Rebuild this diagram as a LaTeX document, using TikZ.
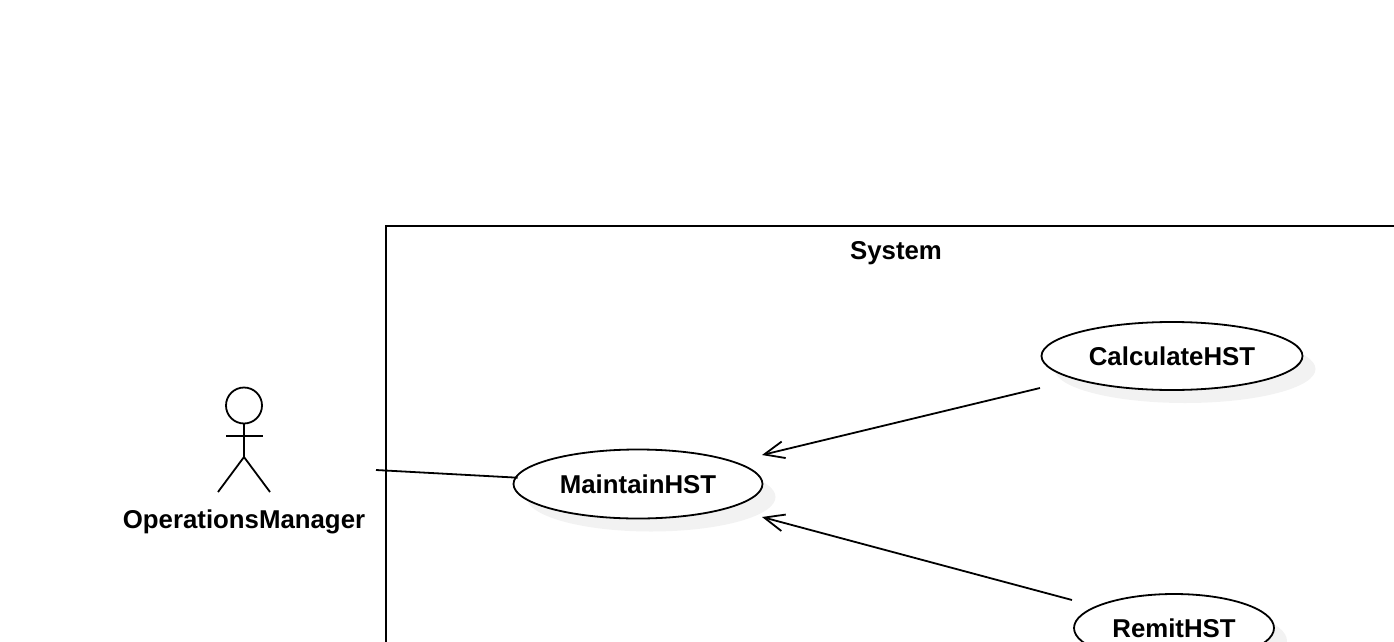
\documentclass[tikz,border=0pt]{standalone}
\usepackage{fontspec}
\setmainfont{Liberation Sans}
\usetikzlibrary{shapes.geometric,shadows,arrows.meta}
\definecolor{shadowgrey}{HTML}{F2F2F2}
\tikzset{
	umlline/.style={line width=1.8pt},
	umllabel/.style={font=\fontsize{25.8}{30}\selectfont\bfseries,inner sep=0pt},
	usecase/.style={ellipse,draw,umlline,fill=white,inner sep=0pt,outer sep=0pt,
		umllabel,copy shadow={shadow xshift=13pt,shadow yshift=-13pt,fill=shadowgrey,draw=none}},
	includes/.style={umlline,-{Straight Barb[length=20pt,width=17pt,line width=1.8pt]}}
}
\begin{document}
\begin{tikzpicture}[x=1pt,y=-1pt]
	\useasboundingbox (0,0) rectangle (1394,642);
	\clip (0,0) rectangle (1394,642);
		% system boundary
		\draw[umlline] (386,660)--(386,226)--(1410,226);
		\node[umllabel] (system) at (896,253.5) {System};
		% actor
		\node[circle,draw,umlline,minimum size=36pt,inner sep=0pt,outer sep=0pt] (head) at (244,405.5) {};
		\coordinate (hip) at (244,457);
		\coordinate (armL) at (226,436);
		\coordinate (armR) at (263,436);
		\coordinate (footL) at (218,492);
		\coordinate (footR) at (270,492);
		\draw[umlline] (head.south)--(hip);
		\draw[umlline] (armL)--(armR);
		\draw[umlline] (footL)--(hip)--(footR);
		\node[umllabel] (manager) at (244,521.5) {OperationsManager};
		% use cases
		\node[usecase,minimum width=249pt,minimum height=69pt] (maintain) at (638,484) {MaintainHST};
		\node[usecase,minimum width=261pt,minimum height=68pt] (calculate) at (1172,356) {CalculateHST};
		\node[usecase,minimum width=200pt,minimum height=68pt] (remit) at (1174,628) {RemitHST};
		% connectors
		\coordinate (managerEnd) at (376,470);
		\coordinate (calculateEnd) at (1040,388);
		\coordinate (remitEnd) at (1072,600);
		\coordinate (maintainTop) at (762,455);
		\coordinate (maintainBot) at (762,517);
		\draw[umlline,shorten >=-2pt] (managerEnd)--(maintain.177);
		\draw[includes] (calculateEnd)--(maintainTop);
		\draw[includes] (remitEnd)--(maintainBot);
\end{tikzpicture}
\end{document}
